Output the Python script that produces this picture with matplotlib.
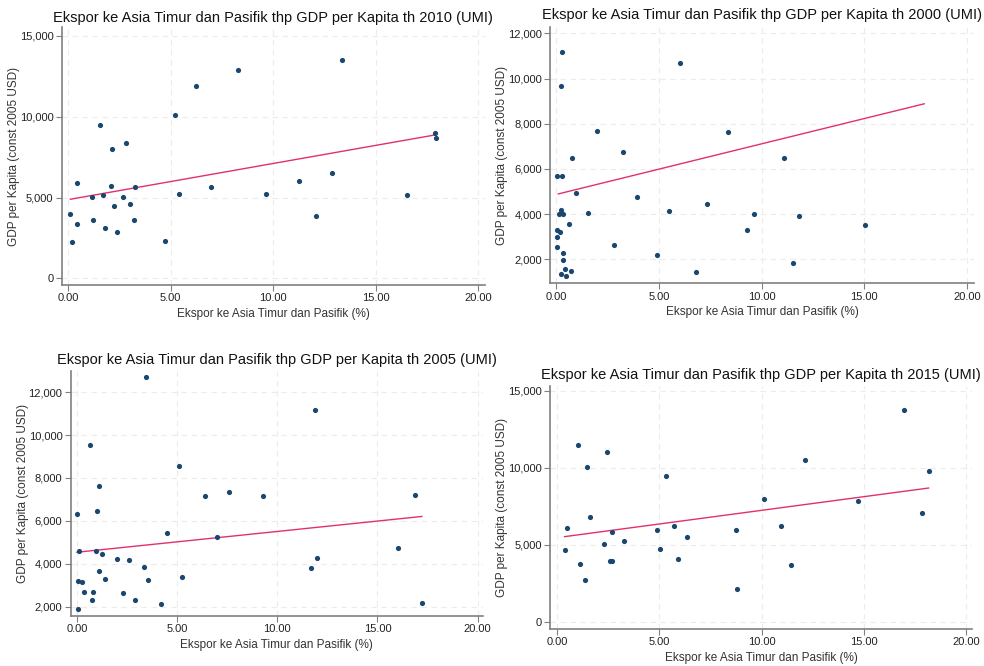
import numpy as np
import matplotlib.pyplot as plt
from matplotlib.ticker import FuncFormatter

plt.rcParams['font.family'] = ['Liberation Sans', 'DejaVu Sans']

# 2010
x2010 = [0.10, 0.20, 0.41, 0.41, 1.15, 1.22, 1.56, 1.69, 1.80, 2.10, 2.15, 2.21, 2.39, 2.65, 2.80, 2.99,
         3.20, 3.25, 4.70, 5.19, 5.38, 6.21, 6.98, 8.28, 9.64, 11.24, 12.08, 12.89, 13.35, 16.54, 17.87, 17.92]
y2010 = [3980, 2270, 5880, 3380, 5010, 3610, 9470, 5160, 3100, 5720, 8000, 4500, 2890, 5030, 8400, 4580,
         3590, 5630, 2330, 10130, 5200, 11920, 5650, 12910, 5220, 6020, 3860, 6520, 13530, 5140, 8970, 8670]

# 2000
x2000 = [0.26, 0.21, 0.02, 0.26, 0.75, 0.96, 0.13, 0.23, 0.32, 0.60, 0.05, 0.19, 0.02, 0.02, 0.34, 0.31,
         0.44, 0.23, 0.49, 0.71, 1.56, 2.00, 2.82, 3.26, 3.91, 4.89, 5.50, 6.02, 6.79, 7.35, 8.38, 9.27,
         9.63, 11.07, 11.51, 11.82, 15.03]
y2000 = [11190, 9670, 5670, 5670, 6470, 4940, 3990, 4180, 4010, 3580, 3300, 3210, 2970, 2560, 2270, 1970,
         1570, 1350, 1250, 1480, 4070, 7660, 2620, 6760, 4740, 2210, 4150, 10690, 1430, 4460, 7620, 3300,
         4010, 6470, 1850, 3930, 3520]

# 2005
x2005 = [0.05, 0.00, 0.10, 0.05, 0.23, 0.37, 0.63, 0.73, 0.78, 0.93, 0.98, 1.11, 1.11, 1.26, 1.38, 1.98,
         2.28, 2.58, 2.88, 3.33, 3.44, 3.56, 4.18, 4.48, 5.09, 5.26, 6.37, 6.99, 7.59, 9.27, 11.66, 11.90,
         11.98, 16.01, 16.89, 17.22]
y2005 = [1920, 6310, 4600, 3230, 3150, 2710, 9520, 2310, 2680, 4600, 6480, 7640, 3660, 4450, 3320, 4250,
         2640, 4170, 2310, 3880, 12680, 3270, 2140, 5460, 8540, 3380, 7160, 5270, 7330, 7160, 3830, 11150,
         4280, 4740, 7210, 2170]

# 2015
x2015 = [0.37, 0.51, 1.04, 1.11, 1.35, 1.48, 1.60, 2.31, 2.44, 2.58, 2.67, 2.71, 3.26, 4.91, 5.04, 5.33,
         5.70, 5.90, 6.34, 8.75, 8.80, 10.12, 10.97, 11.44, 12.11, 14.70, 16.95, 17.86, 18.17]
y2015 = [4640, 6090, 11510, 3750, 2730, 10080, 6830, 5070, 11030, 3970, 3920, 5830, 5250, 5960, 4730, 9500,
         6220, 4080, 5490, 5980, 2100, 8000, 6200, 3660, 10490, 7850, 13770, 7070, 9780]

W, H = 984, 666
fig = plt.figure(figsize=(W / 100, H / 100), dpi=100)

# the 2000 panel in the original carries the 2010 fit line
panels = [
    # (x, y, fit x, fit y, year, left, right, top, bottom, xlim, ylim, yticks, title_y)
    (x2010, y2010, x2010, y2010, 2010, 61.7, 485, 27, 285, (-0.32, 20.33), (-415, 15557),
     [0, 5000, 10000, 15000], 18),
    (x2000, y2000, x2010, y2010, 2000, 550.3, 973.7, 27, 283.3, (-0.29, 20.33), (938, 12279),
     [2000, 4000, 6000, 8000, 10000, 12000], 15),
    (x2005, y2005, x2005, y2005, 2005, 70.7, 483, 371, 615.7, (-0.31, 20.27), (1595, 12977),
     [2000, 4000, 6000, 8000, 10000, 12000], 360),
    (x2015, y2015, x2015, y2015, 2015, 550, 972, 386, 629, (-0.34, 20.29), (-475, 15325),
     [0, 5000, 10000, 15000], 375),
]

navy = '#1a476f'
pink = '#e3306d'
axis_col = '#808080'

for xs, ys, fxs, fys, year, l, r, t, b, xl, yl, yt, ty in panels:
    ax = fig.add_axes([l / W, 1 - b / H, (r - l) / W, (b - t) / H])
    xs = np.array(xs)
    ys = np.array(ys)
    fxs = np.array(fxs)
    ax.grid(True, color='#ececec', linestyle=(0, (5, 4)), linewidth=0.8)
    ax.set_axisbelow(True)
    ax.scatter(xs, ys, s=14, color=navy, zorder=3, linewidths=0)
    k, c = np.polyfit(fxs, fys, 1)
    fx = np.array([fxs.min(), fxs.max()])
    ax.plot(fx, c + k * fx, color=pink, linewidth=1.0, zorder=2)
    ax.set_xlim(*xl)
    ax.set_ylim(*yl)
    ax.set_xticks([0, 5, 10, 15, 20])
    ax.set_yticks(yt)
    ax.xaxis.set_major_formatter(FuncFormatter(lambda v, p: f'{v:.2f}'))
    ax.yaxis.set_major_formatter(FuncFormatter(lambda v, p: f'{int(v):,}'))
    for s in ['top', 'right']:
        ax.spines[s].set_visible(False)
    for s in ['left', 'bottom']:
        ax.spines[s].set_color(axis_col)
        ax.spines[s].set_linewidth(1.2)
    ax.tick_params(colors=axis_col, labelcolor='#222222', labelsize=8, length=4, width=0.8, pad=2)
    ax.set_xlabel('Ekspor ke Asia Timur dan Pasifik (%)', fontsize=8.5, color='#333333')
    ax.set_ylabel('GDP per Kapita (const 2005 USD)', fontsize=8.5, color='#333333')
    ax.xaxis.set_label_coords(0.5, -29 / (b - t))
    ax.yaxis.set_label_coords(-48 / (r - l), 0.5)
    ax.xaxis.label.set_va('center')
    ax.yaxis.label.set_va('center')
    fig.text((l + r) / 2 / W, 1 - ty / H,
             f'Ekspor ke Asia Timur dan Pasifik thp GDP per Kapita th {year} (UMI)',
             ha='center', va='center', fontsize=10.5, color='#111111')

fig.savefig('out.png', dpi=100)
